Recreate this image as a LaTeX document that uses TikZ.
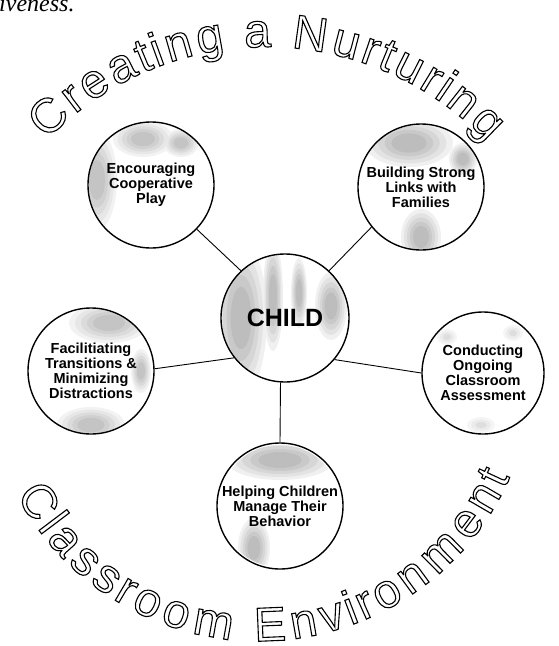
\documentclass[tikz,border=0pt]{standalone}
\usepackage{fontspec}
\setmainfont{Liberation Serif}
\newfontfamily\sansfam{Liberation Sans}
\usetikzlibrary{positioning,decorations.text,backgrounds}

% outlined letters for the big arc titles
\newcommand\hollow[1]{\special{pdf:literal direct 1 Tr 1.1 w}#1\special{pdf:literal direct 0 Tr}}
\newcommand\arcfont{\sansfam\fontsize{48}{50}\selectfont}

\begin{document}
\begin{tikzpicture}[x=1pt,y=1pt,
  topic/.style={circle,draw,line width=1.4pt,minimum size=126pt,inner sep=0pt,align=center,
    font=\sansfam\bfseries\fontsize{14.5}{15}\selectfont},
  link/.style={line width=0.9pt},
  tones/.style={shift={(#1.center)}}]
\useasboundingbox (0,0) rectangle (558,-646);
% end of the page text above
\node[anchor=base west,inner sep=0pt,font=\itshape\fontsize{24}{26}\selectfont] (pagetext) at (-1,-11) {iveness.};
% hub and the five topics
\node[topic,minimum size=128pt,font=\sansfam\bfseries\fontsize{25}{26}\selectfont] (child) at (285,-318) {CHILD};
\node[topic] (coop) at (151,-185) {Encouraging\\Cooperative\\Play};
\node[topic] (fam) at (421,-187) {Building Strong\\Links with\\Families};
\node[topic] (trans) at (91,-371) {Facilitiating\\Transitions \&\\Minimizing\\Distractions};
\node[topic,minimum size=122pt] (assess) at (483,-373) {Conducting\\Ongoing\\Classroom\\Assessment};
\node[topic] (behav) at (280,-506) {Helping Children\\Manage Their\\Behavior};
% spokes
\draw[link] (coop.-44) -- (child.133);
\draw[link] (fam.219) -- (child.47);
\draw[link] (trans.2) -- (child.218);
\draw[link] (assess.180) -- (child.320);
\draw[link] (child.266) -- (behav.90);
% stippling inside the globes, stepped tones per patch
\begin{scope}[on background layer]
\begin{scope}[tones=child]
  \clip (0,0) circle[radius=63];
  \foreach \s/\g in {1/12,0.85/22,0.7/32,0.55/42,0.4/52}
    \foreach \bx/\by/\rx/\ry in {-44/0/26/78,-12/22/10/55,14/25/8/35,46/12/16/34}
      \fill[gray!\g] (\bx,\by) ellipse[x radius=\s*\rx,y radius=\s*\ry];
\end{scope}
\begin{scope}[tones=coop]
  \clip (0,0) circle[radius=62];
  \foreach \s/\g in {1/10,0.85/19,0.7/28,0.55/37,0.4/46}
    \foreach \bx/\by/\rx/\ry in {-54/5/20/50,-8/46/30/18,30/42/18/14}
      \fill[gray!\g] (\bx,\by) ellipse[x radius=\s*\rx,y radius=\s*\ry];
\end{scope}
\begin{scope}[tones=fam]
  \clip (0,0) circle[radius=62];
  \foreach \s/\g in {1/12,0.85/22,0.7/32,0.55/42,0.4/52}
    \foreach \bx/\by/\rx/\ry in {-12/44/44/24,42/28/14/16,0/-50/20/28}
      \fill[gray!\g] (\bx,\by) ellipse[x radius=\s*\rx,y radius=\s*\ry];
\end{scope}
\begin{scope}[tones=trans]
  \clip (0,0) circle[radius=62];
  \foreach \s/\g in {1/10,0.85/19,0.7/28,0.55/37,0.4/46}
    \foreach \bx/\by/\rx/\ry in {18/48/40/20,0/-54/34/18,50/0/10/22}
      \fill[gray!\g] (\bx,\by) ellipse[x radius=\s*\rx,y radius=\s*\ry];
\end{scope}
\begin{scope}[tones=assess]
  \clip (0,0) circle[radius=60];
  \foreach \s/\g in {1/8,0.7/16,0.4/26}
    \foreach \bx/\by/\rx/\ry in {-36/36/10/8,30/40/10/8,-2/-52/14/8}
      \fill[gray!\g] (\bx,\by) ellipse[x radius=\s*\rx,y radius=\s*\ry];
\end{scope}
\begin{scope}[tones=behav]
  \clip (0,0) circle[radius=61];
  \foreach \s/\g in {1/12,0.85/22,0.7/32,0.55/42,0.4/52}
    \foreach \bx/\by/\rx/\ry in {0/46/54/20,-26/-42/16/30}
      \fill[gray!\g] (\bx,\by) ellipse[x radius=\s*\rx,y radius=\s*\ry];
\end{scope}
\end{scope}
% arc titles
\path[decoration={text effects along path,text={Creating a Nurturing},
    text effects/.cd,text along path,fit text to path,character command=\hollow,
    characters={font=\arcfont}},decorate]
  (266,-352) ++(136:305) arc[start angle=136,end angle=43.5,radius=305];
\path[decoration={text effects along path,text={Classroom Environment},
    text effects/.cd,text along path,fit text to path,character command=\hollow,
    characters={font=\arcfont}},decorate]
  (259,-367) ++(207.7:274) arc[start angle=207.7,end angle=336.3,radius=274];
\end{tikzpicture}
\end{document}
